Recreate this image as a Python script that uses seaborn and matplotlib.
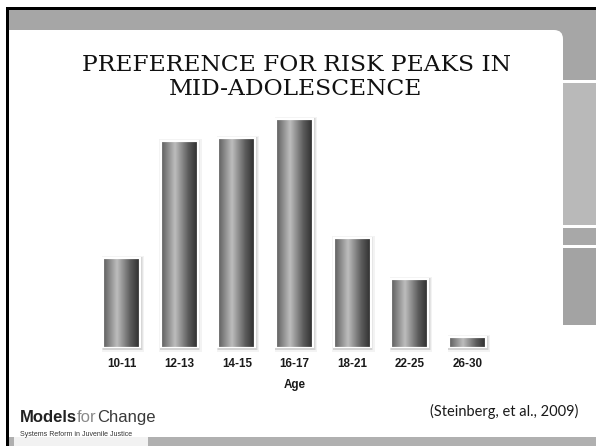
import numpy as np
import pandas as pd
import matplotlib
matplotlib.use("Agg")
import matplotlib.pyplot as plt
from matplotlib.patches import Rectangle, FancyBboxPatch
from matplotlib.colors import LinearSegmentedColormap
from matplotlib.transforms import Affine2D
import seaborn as sns

# Preference for risk by age group
age_groups = ["10-11", "12-13", "14-15", "16-17", "18-21", "22-25", "26-30"]
risk_preference = [90, 207, 210, 229, 110, 69, 11]

title_lines = ["PREFERENCE FOR RISK PEAKS IN", "MID-ADOLESCENCE"]
x_title = "Age"
citation = "(Steinberg, et al., 2009)"

df = pd.DataFrame({"age": age_groups, "pref": risk_preference})

sns.set_theme(style="white")
W, H = 596, 446
fig = plt.figure(figsize=(W / 100, H / 100), dpi=100)
fig.patch.set_facecolor("white")

# pixel coordinates measured from the top-left corner
PX = Affine2D().scale(1, -1).translate(0, H).scale(1 / W, 1 / H) + fig.transFigure


def px_rect(x0, y0, x1, y1, color, z):
    fig.add_artist(Rectangle((x0, y0), x1 - x0, y1 - y0, transform=PX,
                             facecolor=color, edgecolor="none", zorder=z))


# slide frame
band = "#a6a6a6"
px_rect(8, 9, W, 437, band, 0.1)
fig.add_artist(FancyBboxPatch((9, 30), 563 - 9, 437 - 30,
                              boxstyle="round,pad=0,rounding_size=9",
                              transform=PX, facecolor="white",
                              edgecolor="none", zorder=0.2))
px_rect(9, 30, 40, 60, "white", 0.3)
px_rect(9, 400, 563, 437, "white", 0.3)
# right-hand column blocks
px_rect(563, 80, W, 83, "white", 0.3)
px_rect(563, 83, W, 225, "#b9b9b9", 0.3)
px_rect(563, 225, W, 228, "white", 0.3)
px_rect(563, 228, W, 245, "#a8a8a8", 0.3)
px_rect(563, 245, W, 248, "white", 0.3)
px_rect(563, 248, W, 325, "#a3a3a3", 0.3)
px_rect(563, 325, W, 437, "white", 0.3)
# bottom strip and logo box
px_rect(8, 437, W, H, "#b0b0b0", 0.3)
px_rect(14, 437, 148, H, "#f2f2f2", 0.4)
# black border on top and left
px_rect(6, 7, W, 10, "black", 0.5)
px_rect(6, 7, 9, H, "black", 0.5)

# title
serif = ["DejaVu Serif"]
fig.text(296 / W, 1 - 65 / H, title_lines[0], ha="center", va="center",
         fontsize=16.8, family=serif, color="#111111")
fig.text(296 / W, 1 - 89 / H, title_lines[1], ha="center", va="center",
         fontsize=16.8, family=serif, color="#111111")

# chart
left, right, bottom, top = 92.7, 496.3, 348, 110
ax = fig.add_axes([left / W, 1 - bottom / H, (right - left) / W, (bottom - top) / H])
ax.set_zorder(2)
ax.set_facecolor("none")
sns.barplot(data=df, x="age", y="pref", color="#777777", width=0.64,
            edgecolor="white", linewidth=1.6, ax=ax, zorder=3)

shade = LinearSegmentedColormap.from_list(
    "cyl", [(0.0, "#5c5c5c"), (0.38, "#bdbdbd"), (0.75, "#5a5a5a"), (1.0, "#2c2c2c")])
grad = np.linspace(0, 1, 256).reshape(1, -1)
for patch in list(ax.patches):
    x0, y0 = patch.get_x(), patch.get_y()
    w, h = patch.get_width(), patch.get_height()
    # soft drop shadow behind the bar
    for k, a in [(0.06, 0.10), (0.04, 0.15), (0.025, 0.2)]:
        ax.add_patch(Rectangle((x0 - k * 0.4, y0 - k * 60), w + k * 1.6, h + k * 60 * 1.6,
                               facecolor="#909090", edgecolor="none", alpha=a,
                               zorder=1, clip_on=False))
    im = ax.imshow(grad, extent=(x0, x0 + w, y0, y0 + h), aspect="auto",
                   cmap=shade, zorder=3.5, interpolation="bilinear")
    im.set_clip_path(patch)
    patch.set_zorder(4)
    patch.set_facecolor("none")
ax.set_ylim(0, bottom - top)
ax.set_xlim(-0.5, len(age_groups) - 0.5)

for s in ax.spines.values():
    s.set_visible(False)
ax.set_yticks([])
ax.tick_params(axis="x", length=0, pad=7)
for lbl in ax.get_xticklabels():
    lbl.set_fontweight("bold")
    lbl.set_fontsize(8.4)
    lbl.set_family(["Liberation Sans", "DejaVu Sans"])
    lbl.set_color("#1a1a1a")
ax.set_ylabel("")
ax.set_xlabel(x_title, fontsize=8.4, fontweight="bold", family=["Liberation Sans"],
              color="#1a1a1a", labelpad=7)

# source
fig.text(578 / W, 1 - 411 / H, citation, ha="right", va="center",
         fontsize=10.5, family=["Lato", "DejaVu Sans"], color="#1a1a1a")

# logo
narrow = ["Liberation Sans"]
t1 = fig.text(20 / W, 1 - 422 / H, "Models", ha="left", va="baseline",
              fontsize=12, fontweight="bold", family=narrow, color="#222222")
fig.canvas.draw()
r = fig.canvas.get_renderer()
bb = t1.get_window_extent(r)
t2 = fig.text(bb.x1 / W, 1 - 422 / H, "for", ha="left", va="baseline",
              fontsize=12, family=narrow, color="#8a8a8a")
bb2 = t2.get_window_extent(r)
fig.text(bb2.x1 / W, 1 - 422 / H, "Change", ha="left", va="baseline",
         fontsize=12, family=narrow, color="#3a3a3a")
fig.text(20 / W, 1 - 434 / H, "Systems Reform in Juvenile Justice", ha="left",
         va="center", fontsize=5.0, family=narrow, color="#333333")

fig.savefig("out.png", dpi=100, facecolor="white")
